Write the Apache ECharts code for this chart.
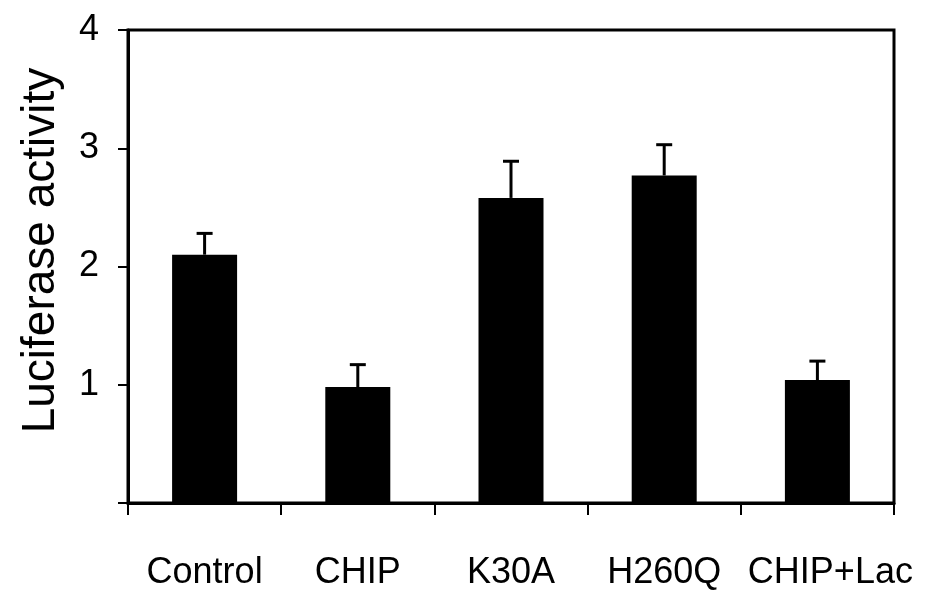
<!DOCTYPE html>
<html>
<head>
<meta charset="utf-8">
<script src="https://cdn.jsdelivr.net/npm/echarts@6/dist/echarts.min.js"></script>
<style>
html,body{margin:0;padding:0;background:#fff;}
#chart{width:934px;height:599px;}
</style>
</head>
<body>
<div id="chart"></div>
<script>
var categories = ['Control', 'CHIP', 'K30A', 'H260Q', 'CHIP+Lac'];
var means = [2.10, 0.98, 2.58, 2.77, 1.04];
var errTops = [2.28, 1.17, 2.89, 3.03, 1.20];
var yTicks = [0, 1, 2, 3, 4];

var FONT = '"Liberation Sans", Arial, sans-serif';
var chart = echarts.init(document.getElementById('chart'), null, {renderer: 'canvas'});

var catData = categories.map(function (c, i) {
  if (i === categories.length - 1) {
    return { value: c, textStyle: { padding: [0, 0, 0, 26] } };
  }
  return c;
});

var option = {
  animation: false,
  backgroundColor: '#ffffff',
  grid: {
    left: 128, right: 40, top: 30, bottom: 96,
    show: true, borderColor: '#000', borderWidth: 3, backgroundColor: 'transparent'
  },
  xAxis: {
    type: 'category',
    data: catData,
    boundaryGap: true,
    axisLine: { show: true, lineStyle: { color: '#000', width: 3 } },
    axisTick: { show: true, alignWithLabel: false, length: 12, lineStyle: { color: '#000', width: 2 } },
    axisLabel: { color: '#000', fontFamily: FONT, fontSize: 36, margin: 52, interval: 0 },
    splitLine: { show: false }
  },
  yAxis: {
    type: 'value',
    min: yTicks[0],
    max: yTicks[yTicks.length - 1],
    interval: 1,
    name: 'Luciferase activity',
    nameLocation: 'middle',
    nameRotate: 90,
    nameGap: 64,
    nameTextStyle: { color: '#000', fontFamily: FONT, fontSize: 46, padding: [0, 0, 0, 32] },
    axisLine: { show: true, lineStyle: { color: '#000', width: 3 } },
    axisTick: { show: true, inside: false, length: 10, lineStyle: { color: '#000', width: 2 } },
    axisLabel: {
      color: '#000', fontFamily: FONT, fontSize: 36, margin: 29,
      formatter: function (v) { return v === 0 ? '' : String(v); }
    },
    splitLine: { show: false }
  },
  series: [
    {
      type: 'bar',
      data: means,
      barWidth: 65,
      itemStyle: { color: '#000' },
      z: 2
    },
    {
      type: 'custom',
      z: 3,
      data: means.map(function (m, i) { return [i, m, errTops[i]]; }),
      renderItem: function (params, api) {
        var x = api.value(0);
        var base = api.coord([x, api.value(1)]);
        var top = api.coord([x, api.value(2)]);
        var half = 8;
        return {
          type: 'group',
          children: [
            { type: 'line', shape: { x1: base[0], y1: base[1], x2: top[0], y2: top[1] },
              style: { stroke: '#000', lineWidth: 3 } },
            { type: 'line', shape: { x1: top[0] - half, y1: top[1], x2: top[0] + half, y2: top[1] },
              style: { stroke: '#000', lineWidth: 3 } }
          ]
        };
      }
    }
  ]
};
chart.setOption(option);
</script>
</body>
</html>
